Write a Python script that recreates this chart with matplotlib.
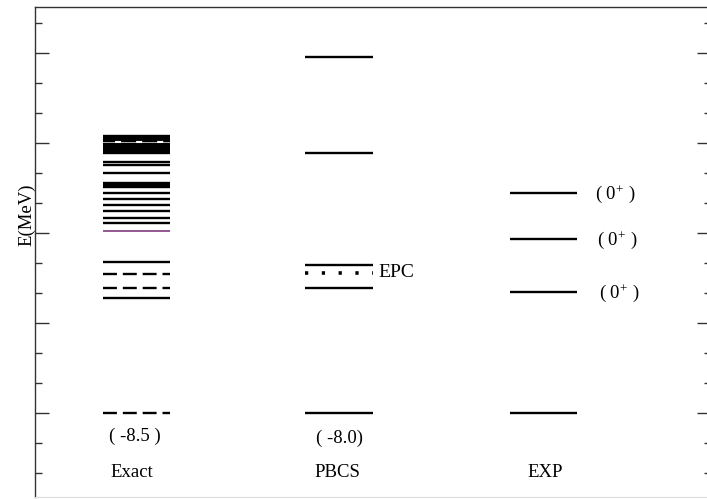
import numpy as np
import matplotlib
matplotlib.use("Agg")
import matplotlib.pyplot as plt
from matplotlib.ticker import MultipleLocator, NullFormatter

plt.rcParams['font.family'] = ['Liberation Serif', 'DejaVu Serif']
plt.rcParams['mathtext.fontset'] = 'custom'
plt.rcParams['mathtext.rm'] = 'Liberation Serif'

# excitation energies relative to each ground state (MeV)
exact_solid = [9.23, 9.17, 9.11, 9.05, 8.98, 8.92, 8.86, 8.80, 8.73, 8.67,
               8.37, 8.27, 8.00, 7.67, 7.60, 7.53, 7.33, 7.13,
               6.93, 6.73, 6.50, 6.33, 5.03, 3.83]
exact_dashed = [4.63, 4.17, 0.0]
exact_purple = [6.07]
exact_gap = [9.03]
pbcs_levels = [11.87, 8.67, 4.93, 4.17, 0.0]
pbcs_epc = [4.67]
exp_levels = [7.33, 5.80, 4.03, 0.0]
exp_labels = ['( $\\mathregular{0^{+}}$ )'] * 3
ground_exact = -8.5
ground_pbcs = -8.0
columns = ['Exact', 'PBCS', 'EXP']

fig = plt.figure(figsize=(7.07, 4.99), dpi=100)
ax = fig.add_axes([35 / 707, 2 / 499, 676 / 707, 490 / 499])

lw = 1.7
fs = 13.5
for e in exact_solid:
    ax.plot([1, 2], [e, e], color='black', lw=lw, solid_capstyle='butt')
for e in exact_dashed:
    ax.plot([1, 2], [e, e], color='black', lw=lw, ls=(0, (5.9, 2.5)),
            dash_capstyle='butt')
for e in exact_purple:
    ax.plot([1, 2], [e, e], color='#8a4a8a', lw=1.3, solid_capstyle='butt')
for e in exact_gap:
    ax.plot([1, 2], [e, e], color='white', lw=1.5, ls=(4.3, (2.9, 7.2)),
            dash_capstyle='butt')

for e in pbcs_levels:
    ax.plot([4, 5], [e, e], color='black', lw=lw, solid_capstyle='butt')
for e in pbcs_epc:
    ax.plot([4, 5], [e, e], color='black', lw=2.6, ls=(0, (0.9, 3.75)),
            dash_capstyle='butt')
    ax.text(5.08, e, 'EPC', fontsize=14, va='center', ha='left')

for e in exp_levels:
    ax.plot([7.03, 8.02], [e, e], color='black', lw=lw, solid_capstyle='butt')
for e, lab, dx in zip(exp_levels[:3], exp_labels, [0, 0.03, 0.07]):
    ax.text(8.28 + dx, e - 0.05, lab, fontsize=fs, va='center', ha='left')

ax.text(1.48, -0.78, '( %.1f )' % ground_exact, fontsize=fs, ha='center', va='center')
ax.text(4.51, -0.85, '( %.1f)' % ground_pbcs, fontsize=fs, ha='center', va='center')
for x, name in zip([1.43, 4.48, 7.54], columns):
    ax.text(x, -1.97, name, fontsize=fs, ha='center', va='center')

ax.set_xlim(0, 10)
ax.set_ylim(-2.8, 13.53)
ax.set_xticks([])
ax.yaxis.set_major_locator(MultipleLocator(3))
ax.yaxis.set_minor_locator(MultipleLocator(1))
ax.yaxis.set_major_formatter(NullFormatter())
ax.tick_params(axis='y', which='major', direction='in', length=10, width=1.0,
               color='#333333', left=True, right=True)
ax.tick_params(axis='y', which='minor', direction='in', length=5, width=1.0,
               color='#333333', left=True, right=True)

for side in ['left', 'top', 'right']:
    ax.spines[side].set_color('#333333')
    ax.spines[side].set_linewidth(1.0)
ax.spines['bottom'].set_color('#dddddd')

ax.set_ylabel('E(MeV)', fontsize=fs)
ax.yaxis.set_label_coords(0.0, 0.575)

fig.savefig('out.png', dpi=100)
